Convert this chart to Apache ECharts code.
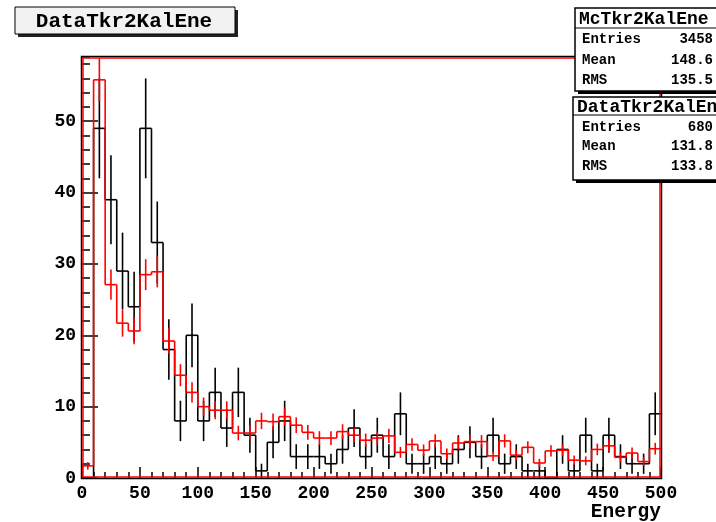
<!DOCTYPE html>
<html><head><meta charset="utf-8">
<script src="https://cdn.jsdelivr.net/npm/echarts@6/dist/echarts.min.js"></script>
<style>html,body{margin:0;padding:0;background:#fff;overflow:hidden}#c{width:716px;height:522px}</style>
</head><body><div id="c"></div>
<script>
// ---- data ----
const binLow = [0,10,20,30,40,50,60,70,80,90,100,110,120,130,140,150,160,170,180,190,
  200,210,220,230,240,250,260,270,280,290,300,310,320,330,340,350,360,370,380,390,
  400,410,420,430,440,450,460,470,480,490];
const xMax = 500;
const yMax = 59;
const dataCounts = [0,49,39,29,24,49,33,18,8,20, 8,12,7,12,6,1,5,8,3,3,
  3,2,4,7,3,6,3,9,2,2, 3,2,4,5,3,6,2,3,1,1, 0,4,1,6,1,6,3,2,2,9];
const mcScaled = [1.7,55.8,27.1,21.7,20.6,28.5,28.9,19.2,14.4,12.0, 10.0,9.5,9.5,6.3,6.3,8.0,7.9,8.6,7.4,6.4,
  5.6,5.6,6.5,6.0,5.3,5.6,5.9,3.6,4.7,3.9, 5.2,3.4,4.9,5.1,5.1,3.1,5.2,3.2,4.3,2.1,
  3.8,3.9,2.5,2.4,4.0,4.5,2.9,3.5,2.3,4.1];
const mcWeight = 0.165;
const xTicks = [0,50,100,150,200,250,300,350,400,450,500];
const yTicks = [0,10,20,30,40,50];
const titleText = 'DataTkr2KalEne';
const statsMc = {name:'McTkr2KalEne', rows:[['Entries','3458'],['Mean','148.6'],['RMS','135.5']]};
const statsData = {name:'DataTkr2KalEne', rows:[['Entries','680'],['Mean','131.8'],['RMS','133.8']]};
const xTitle = 'Energy';

const dataErr = dataCounts.map(v => Math.sqrt(v));
const mcErr = mcScaled.map(v => Math.sqrt(v * mcWeight));

const FONT = '"Liberation Mono", "Courier New", monospace';

function histSeries(name, values, errs, color, z) {
  const data = values.map((v, i) => [binLow[i], i + 1 < binLow.length ? binLow[i + 1] : xMax, v, i > 0 ? values[i - 1] : 0, errs[i]]);
  return {
    type: 'custom', name, z, silent: true,
    encode: {x: [0, 1], y: [2]},
    data,
    renderItem: (params, api) => {
      const x0 = api.value(0), x1 = api.value(1), v = api.value(2), pv = api.value(3), e = api.value(4);
      const a = api.coord([x0, v]), b = api.coord([x1, v]), c = api.coord([x0, pv]);
      const st = {stroke: color, lineWidth: 1.6};
      const ch = [
        {type: 'line', shape: {x1: a[0], y1: a[1], x2: b[0], y2: b[1]}, style: st},
        {type: 'line', shape: {x1: c[0], y1: c[1], x2: a[0], y2: a[1]}, style: st}
      ];
      if (e > 0) {
        const xc = (x0 + x1) / 2;
        const lo = api.coord([xc, Math.max(0, v - e)]), hi = api.coord([xc, Math.min(yMax, v + e)]);
        ch.push({type: 'line', shape: {x1: lo[0], y1: lo[1], x2: hi[0], y2: hi[1]}, style: st});
      }
      return {type: 'group', children: ch};
    }
  };
}

const frameSeries = {
  type: 'custom', z: 20, silent: true, data: [[0, 0]],
  encode: {x: [0], y: [1]},
  renderItem: (params, api) => {
    const tl = api.coord([0, yMax]), br = api.coord([xMax, 0]);
    return {type: 'group', children: [
      {type: 'rect', shape: {x: tl[0] - 0.5, y: tl[1] - 0.5, width: br[0] - tl[0] + 1, height: br[1] - tl[1] + 1}, style: {fill: 'none', stroke: '#000', lineWidth: 1.5}},
      {type: 'rect', shape: {x: tl[0] + 1, y: tl[1] + 1, width: br[0] - tl[0] - 2, height: br[1] - tl[1] - 2}, style: {fill: 'none', stroke: '#ff0000', lineWidth: 1.5}}
    ]};
  }
};

function statsBox(st, x, y, h, sep, rowY) {
  const els = [
    {type: 'rect', shape: {x: x + 3, y: y + 3, width: 200, height: h}, style: {fill: '#000'}, z: 100},
    {type: 'rect', shape: {x: x, y: y, width: 200, height: h}, style: {fill: '#fff', stroke: '#000', lineWidth: 1.5}, z: 101},
    {type: 'line', shape: {x1: x, y1: sep, x2: x + 200, y2: sep}, style: {stroke: '#000', lineWidth: 1.2}, z: 102},
    {type: 'text', style: {text: st.name, x: x + 4, y: (y + sep) / 2 + 1, font: 'bold 18px ' + FONT, fill: '#000', align: 'left', verticalAlign: 'middle'}, z: 103}
  ];
  st.rows.forEach((r, i) => {
    els.push({type: 'text', style: {text: r[0], x: 582, y: rowY[i], font: 'bold 14px ' + FONT, fill: '#000', align: 'left', verticalAlign: 'middle'}, z: 103});
    els.push({type: 'text', style: {text: r[1], x: 713, y: rowY[i], font: 'bold 14px ' + FONT, fill: '#000', align: 'right', verticalAlign: 'middle'}, z: 103});
  });
  return els;
}

const chart = echarts.init(document.getElementById('c'), null, {renderer: 'canvas'});
chart.setOption({
  backgroundColor: '#fff',
  animation: false,
  grid: {left: 82, right: 55, top: 57, bottom: 44, show: false},
  xAxis: {
    type: 'value', min: 0, max: xMax, interval: 50,
    axisLine: {show: false},
    axisTick: {show: true, inside: true, length: 11, lineStyle: {color: '#000', width: 1.5}},
    minorTick: {show: true, splitNumber: 5, length: 6, lineStyle: {color: '#000', width: 1.5}},
    splitLine: {show: false},
    axisLabel: {margin: 6, color: '#000', fontFamily: FONT, fontWeight: 'bold', fontSize: 18,
      formatter: v => xTicks.indexOf(v) >= 0 ? String(v) : ''}
  },
  yAxis: [{
    type: 'value', min: 0, max: yMax, interval: 10,
    axisLine: {show: false},
    axisTick: {show: true, inside: true, length: 16, lineStyle: {color: '#000', width: 1.5}},
    splitLine: {show: false},
    axisLabel: {margin: 6, color: '#000', fontFamily: FONT, fontWeight: 'bold', fontSize: 18, showMaxLabel: false,
      formatter: v => yTicks.indexOf(v) >= 0 ? String(v) : ''}
  }, {
    type: 'value', min: 0, max: yMax, interval: 2, position: 'left',
    axisLine: {show: false},
    axisTick: {show: true, inside: true, length: 8, lineStyle: {color: '#000', width: 1.5}},
    splitLine: {show: false},
    axisLabel: {show: false}
  }],
  series: [
    histSeries('Data', dataCounts, dataErr, '#000', 5),
    histSeries('MC', mcScaled, mcErr, '#ff0000', 6),
    frameSeries
  ],
  graphic: [
    {type: 'rect', shape: {x: 18, y: 10, width: 220, height: 27}, style: {fill: '#222'}, z: 100},
    {type: 'rect', shape: {x: 15, y: 7, width: 220, height: 27}, style: {fill: '#f2f2f2', stroke: '#000', lineWidth: 1}, z: 101},
    {type: 'text', style: {text: titleText, x: 124, y: 21.5, font: 'bold 21px ' + FONT, fill: '#000', align: 'center', verticalAlign: 'middle'}, z: 102},
    ...statsBox(statsMc, 575, 8, 83, 28, [39.5, 60.5, 80.5]),
    ...statsBox(statsData, 573, 97, 83, 115, [127, 146.5, 166]),
    {type: 'text', style: {text: xTitle, x: 661, y: 512, font: 'bold 19.5px ' + FONT, fill: '#000', align: 'right', verticalAlign: 'middle'}, z: 102}
  ]
});
</script></body></html>
